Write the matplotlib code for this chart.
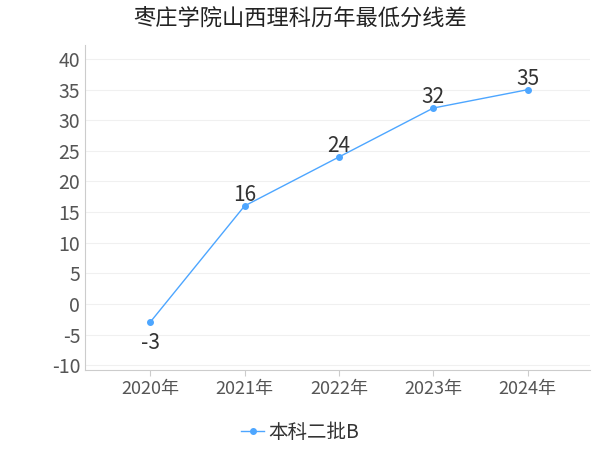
import matplotlib
matplotlib.use("Agg")
import matplotlib.pyplot as plt

plt.rcParams['font.family'] = ['Noto Sans CJK SC', 'DejaVu Sans']
plt.rcParams['axes.unicode_minus'] = False

years = ["2020年", "2021年", "2022年", "2023年", "2024年"]
values = [-3, 16, 24, 32, 35]
series_name = "本科二批B"
title = "枣庄学院山西理科历年最低分线差"

fig = plt.figure(figsize=(6, 4.5), dpi=100)
ax = fig.add_axes([85/600, 1-370/450, 505/600, 325/450])
x = list(range(len(years)))
color = "#4da6ff"
ax.plot(x, values, color=color, lw=1, marker="o", ms=4, label=series_name)
for xi, v in zip(x, values):
    if v < 0:
        ax.annotate(str(v), (xi, v), xytext=(0, -7), textcoords="offset points",
                    ha="center", va="top", fontsize=15, color="#333333")
    else:
        ax.annotate(str(v), (xi, v), xytext=(0, 0), textcoords="offset points",
                    ha="center", va="bottom", fontsize=15, color="#333333")
ax.set_xlim(-0.69, 4.66)
ax.set_ylim(-10.8, 42.3)
ax.set_yticks(range(-10, 45, 5))
ax.set_xticks(x)
ax.set_xticklabels(years)
ax.tick_params(axis="y", labelsize=14, colors="#555555", length=0)
ax.tick_params(axis="x", labelsize=13, colors="#555555", length=4, color="#cccccc")
ax.grid(axis="y", color="#f0f0f0", lw=0.8)
for s in ["top", "right"]:
    ax.spines[s].set_visible(False)
ax.spines["left"].set_color("#cccccc")
ax.spines["bottom"].set_color("#cccccc")
fig.text(0.5, 1-18/450, title, ha="center", va="center", fontsize=16, color="#222222")
fig.legend(loc="center", bbox_to_anchor=(0.5, 1-432/450), frameon=False,
           fontsize=14, handlelength=1.2, handletextpad=0.2, labelcolor="#333333")
fig.savefig("out.png", dpi=100)
